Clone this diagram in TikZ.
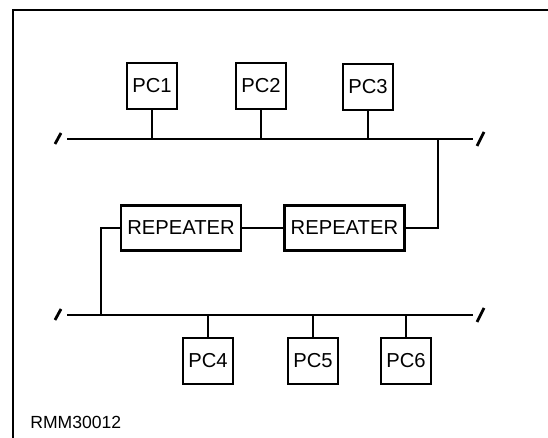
\documentclass[tikz,border=0pt]{standalone}
\usepackage{fontspec}
\setmainfont{Liberation Sans}
\usetikzlibrary{positioning}

\begin{document}
\begin{tikzpicture}[
    x=0.02cm, y=-0.02cm,
    pc/.style={rectangle, draw, line width=1.4pt, minimum width=1cm, minimum height=0.92cm, inner sep=0pt, font=\fontsize{11.5}{13}\selectfont},
    repeater/.style={rectangle, draw, line width=1.4pt, minimum width=2.4cm, minimum height=0.9cm, inner sep=0pt, font=\fontsize{11.5}{13}\selectfont},
    wire/.style={line width=1.2pt},
    brk/.style={line width=1.6pt}
]
    \useasboundingbox (0,0) rectangle (548,438);

    % Frame
    \draw[line width=1.3pt] (13,438) -- (13,10) -- (548,10);

    % Upper PCs
    \node[pc] (pc1) at (152,86) {PC1};
    \node[pc] (pc2) at (261,86) {PC2};
    \node[pc] (pc3) at (368,87) {PC3};

    % Repeaters
    \node[repeater] (rep1) at (181,228) {REPEATER};
    \node[repeater, right=0.82cm of rep1] (rep2) {REPEATER};

    % Lower PCs
    \node[pc] (pc4) at (208,361) {PC4};
    \node[pc] (pc5) at (313,361) {PC5};
    \node[pc] (pc6) at (406,361) {PC6};

    % Bus ends and taps
    \coordinate (b1w) at (67,139);
    \coordinate (b1e) at (473,139);
    \coordinate (b2w) at (67,315);
    \coordinate (b2e) at (473,315);
    \coordinate (tap1) at (438,139);
    \coordinate (tap2) at (101,315);

    % Buses
    \draw[wire] (b1w) -- (b1e);
    \draw[wire] (b2w) -- (b2e);
    \draw[brk] (b1w) ++(-12,5) -- ++(6,-11);
    \draw[brk] (b1e) ++(4,7) -- ++(7,-14);
    \draw[brk] (b2w) ++(-12,5) -- ++(6,-11);
    \draw[brk] (b2e) ++(4,7) -- ++(7,-14);

    % Drops
    \draw[wire] (pc1.south) -- (pc1.south |- b1w);
    \draw[wire] (pc2.south) -- (pc2.south |- b1w);
    \draw[wire] (pc3.south) -- (pc3.south |- b1w);
    \draw[wire] (pc4.north) -- (pc4.north |- b2w);
    \draw[wire] (pc5.north) -- (pc5.north |- b2w);
    \draw[wire] (pc6.north) -- (pc6.north |- b2w);

    % Repeater links
    \draw[wire] (rep1.east) -- (rep2.west);
    \draw[wire] (rep2.east) -| (tap1);
    \draw[wire] (rep1.west) -| (tap2);

    % Figure number
    \node[anchor=west, inner sep=0pt, font=\fontsize{10}{12}\selectfont] (fignum) at (30,422) {RMM30012};
\end{tikzpicture}
\end{document}
